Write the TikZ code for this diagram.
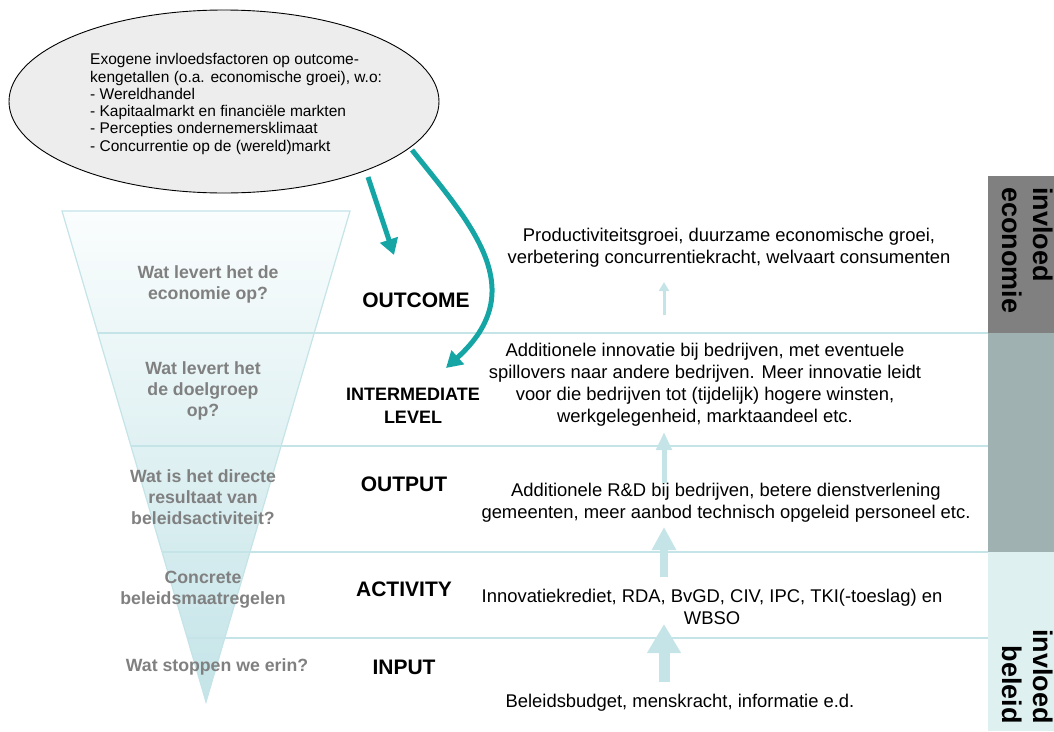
\documentclass[tikz,border=0pt]{standalone}
\usepackage{fontspec}
\setmainfont{Liberation Sans}
\usetikzlibrary{arrows.meta,shapes.geometric}
\definecolor{tealA}{RGB}{22,165,165}
\definecolor{lteal}{RGB}{197,228,232}
\definecolor{funtop}{RGB}{250,253,253}
\definecolor{funbot}{RGB}{196,228,232}
\definecolor{gtxt}{RGB}{128,128,128}
\definecolor{dbox}{RGB}{128,128,128}
\definecolor{mbox}{RGB}{160,177,177}
\definecolor{lbox}{RGB}{223,240,241}
\definecolor{ellfill}{RGB}{237,237,237}
\begin{document}
\begin{tikzpicture}[x=1pt,y=-1pt,
  qlabel/.style={font=\fontsize{17.7}{21}\selectfont\bfseries, text=gtxt, align=center, inner sep=0pt},
  lvl/.style={font=\fontsize{21}{24}\selectfont\bfseries, align=center, inner sep=0pt},
  desc/.style={font=\fontsize{18.4}{22}\selectfont, align=center, inner sep=0pt},
  side/.style={font=\fontsize{27}{31}\selectfont\bfseries, rotate=-90, inner sep=0pt},
  divider/.style={draw=lteal, line width=1.2pt},
  tealarrow/.style={draw=tealA, line width=5pt, -{Triangle[length=16pt,width=18pt]}},
  uparrow/.style={draw=lteal}
]
\useasboundingbox (0,0) rectangle (1054,731);

% sidebar
\fill[dbox] (988,176) rectangle (1054,333);
\fill[mbox] (988,333) rectangle (1054,552);
\fill[lbox] (988,552) rectangle (1054,731);
\node[side, align=left, anchor=north west] (sideA) at (1053,187) {invloed\\economie};
\node[side, align=right, anchor=north east] (sideB) at (1053,724) {invloed\\beleid};

% funnel
\shade[top color=funtop, bottom color=funbot] (62,211) -- (350,211) -- (206,702) -- cycle;
\draw[lteal, line width=1.2pt, line join=miter] (62,211) -- (350,211) -- (206,702) -- cycle;

% dividers
\draw[divider] (97.8,333) -- (988,333);
\draw[divider] (130.9,446) -- (988,446);
\draw[divider] (162,552) -- (988,552);
\draw[divider] (187.2,638) -- (988,638);

% ellipse
\node[draw=black, fill=ellfill, ellipse, minimum width=430pt, minimum height=183pt, inner sep=0pt, line width=0.9pt] (ell) at (224,101.5) {};
\node[anchor=west, align=left, font=\fontsize{15.5}{17.3}\selectfont, inner sep=0pt] (ex) at (90,104)
 {Exogene invloedsfactoren op outcome-\\kengetallen (o.a. economische groei), w.o:\\- Wereldhandel\\- Kapitaalmarkt en financiële markten\\- Percepties ondernemersklimaat\\- Concurrentie op de (wereld)markt};

% funnel questions
\node[qlabel] (q1) at (208,284) {Wat levert het de\\economie op?};
\node[qlabel] (q2) at (203,391) {Wat levert het\\de doelgroep\\op?};
\node[qlabel] (q3) at (203,497) {Wat is het directe\\resultaat van\\beleidsactiviteit?};
\node[qlabel] (q4) at (203,590) {Concrete\\beleidsmaatregelen};
\node[qlabel] (q5) at (217,667) {Wat stoppen we erin?};

% level labels
\node[lvl] (outcome) at (416,300) {OUTCOME};
\node[lvl, font=\fontsize{18}{22.5}\selectfont\bfseries] (inter) at (413,406) {INTERMEDIATE\\LEVEL};
\node[lvl] (output) at (404,484) {OUTPUT};
\node[lvl] (activity) at (404,589) {ACTIVITY};
\node[lvl] (input) at (404,667) {INPUT};

% descriptions
\node[desc] (r1) at (729,248) {Productiviteitsgroei, duurzame economische groei,\\verbetering concurrentiekracht, welvaart consumenten};
\node[desc] (r2) at (705,385) {Additionele innovatie bij bedrijven, met eventuele\\spillovers naar andere bedrijven. Meer innovatie leidt\\voor die bedrijven tot (tijdelijk) hogere winsten,\\werkgelegenheid, marktaandeel etc.};
\node[desc] (r3) at (726,503) {Additionele R\&D bij bedrijven, betere dienstverlening\\gemeenten, meer aanbod technisch opgeleid personeel etc.};
\node[desc] (r4) at (712,607) {Innovatiekrediet, RDA, BvGD, CIV, IPC, TKI(-toeslag) en\\WBSO};
\node[desc] (r5) at (680,703) {Beleidsbudget, menskracht, informatie e.d.};

% light up arrows
\coordinate (a1s) at (664,315); \coordinate (a1e) at (664,282);
\coordinate (a2s) at (664,483); \coordinate (a2e) at (664,432);
\coordinate (a3s) at (664,577); \coordinate (a3e) at (664,527);
\coordinate (a4s) at (664,682); \coordinate (a4e) at (664,624);
\draw[uparrow, line width=3pt, -{Triangle[length=9pt,width=10pt]}] (a1s) -- (a1e);
\draw[uparrow, line width=5pt, -{Triangle[length=18pt,width=15pt]}] (a2s) -- (a2e);
\draw[uparrow, line width=8pt, -{Triangle[length=23pt,width=23pt]}] (a3s) -- (a3e);
\draw[uparrow, line width=11pt, -{Triangle[length=29pt,width=32pt]}] (a4s) -- (a4e);

% teal arrows
\coordinate (t1s) at (368,177); \coordinate (t1e) at (394,255);
\coordinate (t2s) at (412,150); \coordinate (t2e) at (446,368);
\draw[tealarrow] (t1s) -- (t1e);
\draw[tealarrow] (t2s) .. controls (472,225) and (532,290) .. (t2e);
\end{tikzpicture}
\end{document}
